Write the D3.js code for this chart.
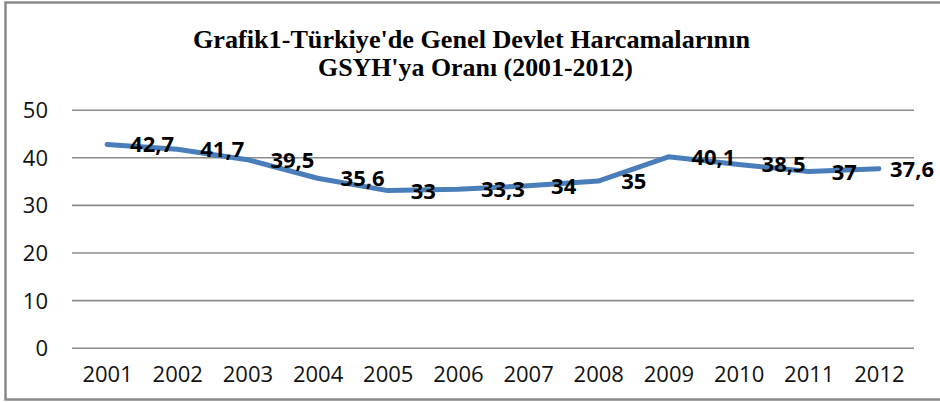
<!DOCTYPE html>
<html>
<head>
<meta charset="utf-8">
<script src="https://cdn.jsdelivr.net/npm/d3@7"></script>
<style>
  body { margin: 0; background: #fff; }
  svg { display: block; }
  .title { font-family: 'Times New Roman', 'Liberation Serif', serif; }
</style>
</head>
<body>
<div id="chart"></div>
<script>
const years = ['2001', '2002', '2003', '2004', '2005', '2006', '2007', '2008', '2009', '2010', '2011', '2012'];
const values = [42.7, 41.7, 39.5, 35.6, 33, 33.3, 34, 35, 40.1, 38.5, 37, 37.6];
const yTicks = [0, 10, 20, 30, 40, 50];
const titleLines = ["Grafik1-Türkiye'de Genel Devlet Harcamalarının", "GSYH'ya Oranı (2001-2012)"];

const width = 940;
const height = 402;
const plot = { left: 72, right: 914, top: 109.7, bottom: 347.7 };

const svg = d3.select('#chart')
  .append('svg')
  .attr('width', width)
  .attr('height', height);

// chart frame (right edge falls outside the picture)
svg.append('rect')
  .attr('x', 5.5)
  .attr('y', 2.5)
  .attr('width', 950)
  .attr('height', 397)
  .attr('fill', 'none')
  .attr('stroke', '#8a8a8a')
  .attr('stroke-width', 2.5);

// title
svg.append('g')
  .selectAll('text')
  .data(titleLines)
  .enter()
  .append('text')
  .attr('class', 'title')
  .attr('x', (d, i) => i === 0 ? 471.5 : 475.5)
  .attr('y', (d, i) => 47.5 + i * 28.5)
  .attr('text-anchor', 'middle')
  .attr('font-weight', 'bold')
  .attr('font-size', 25)
  .attr('textLength', (d, i) => i === 0 ? 557 : 315)
  .attr('lengthAdjust', 'spacingAndGlyphs')
  .attr('fill', '#000')
  .text(d => d);

const x = d3.scalePoint()
  .domain(years)
  .range([plot.left, plot.right])
  .padding(0.5);

const y = d3.scaleLinear()
  .domain([0, 50])
  .range([plot.bottom, plot.top]);

// y axis with gridlines
const yAxis = svg.append('g')
  .attr('transform', `translate(${plot.left},0)`)
  .call(d3.axisLeft(y)
    .tickValues(yTicks)
    .tickSize(-(plot.right - plot.left))
    .tickPadding(24)
    .tickFormat(d3.format('d')));

yAxis.select('.domain').remove();
yAxis.selectAll('line')
  .attr('stroke', '#8c8c8c')
  .attr('stroke-width', 1.6);
yAxis.selectAll('text')
  .attr('font-family', '"Open Sans", sans-serif')
  .attr('font-size', 22)
  .attr('fill', '#111')
  .attr('dy', '0.36em');

// x axis labels
const xAxis = svg.append('g')
  .attr('transform', `translate(0,${plot.bottom})`)
  .call(d3.axisBottom(x).tickSize(0).tickPadding(26));

xAxis.select('.domain').remove();
xAxis.selectAll('text')
  .attr('font-family', '"Open Sans", sans-serif')
  .attr('font-size', 22)
  .attr('fill', '#111')
  .attr('dy', '0.36em');

// the line
const line = d3.line()
  .x((d, i) => x(years[i]))
  .y(d => y(d));

svg.append('path')
  .datum(values)
  .attr('d', line)
  .attr('fill', 'none')
  .attr('stroke', '#4a7ebb')
  .attr('stroke-width', 5)
  .attr('stroke-linejoin', 'round')
  .attr('stroke-linecap', 'round');

// data labels, right of each point, kept inside the frame
const fmt = v => String(v).replace('.', ',');

svg.append('g')
  .selectAll('text')
  .data(values)
  .enter()
  .append('text')
  .attr('y', d => y(d))
  .attr('dy', '0.36em')
  .attr('font-family', '"Open Sans", sans-serif')
  .attr('font-weight', 'bold')
  .attr('font-size', 22)
  .attr('fill', '#000')
  .text(d => fmt(d))
  .each(function (d, i) {
    const w = this.getComputedTextLength();
    const px = x(years[i]) + 23;
    d3.select(this).attr('x', Math.min(px, 934 - w));
  });
</script>
</body>
</html>
